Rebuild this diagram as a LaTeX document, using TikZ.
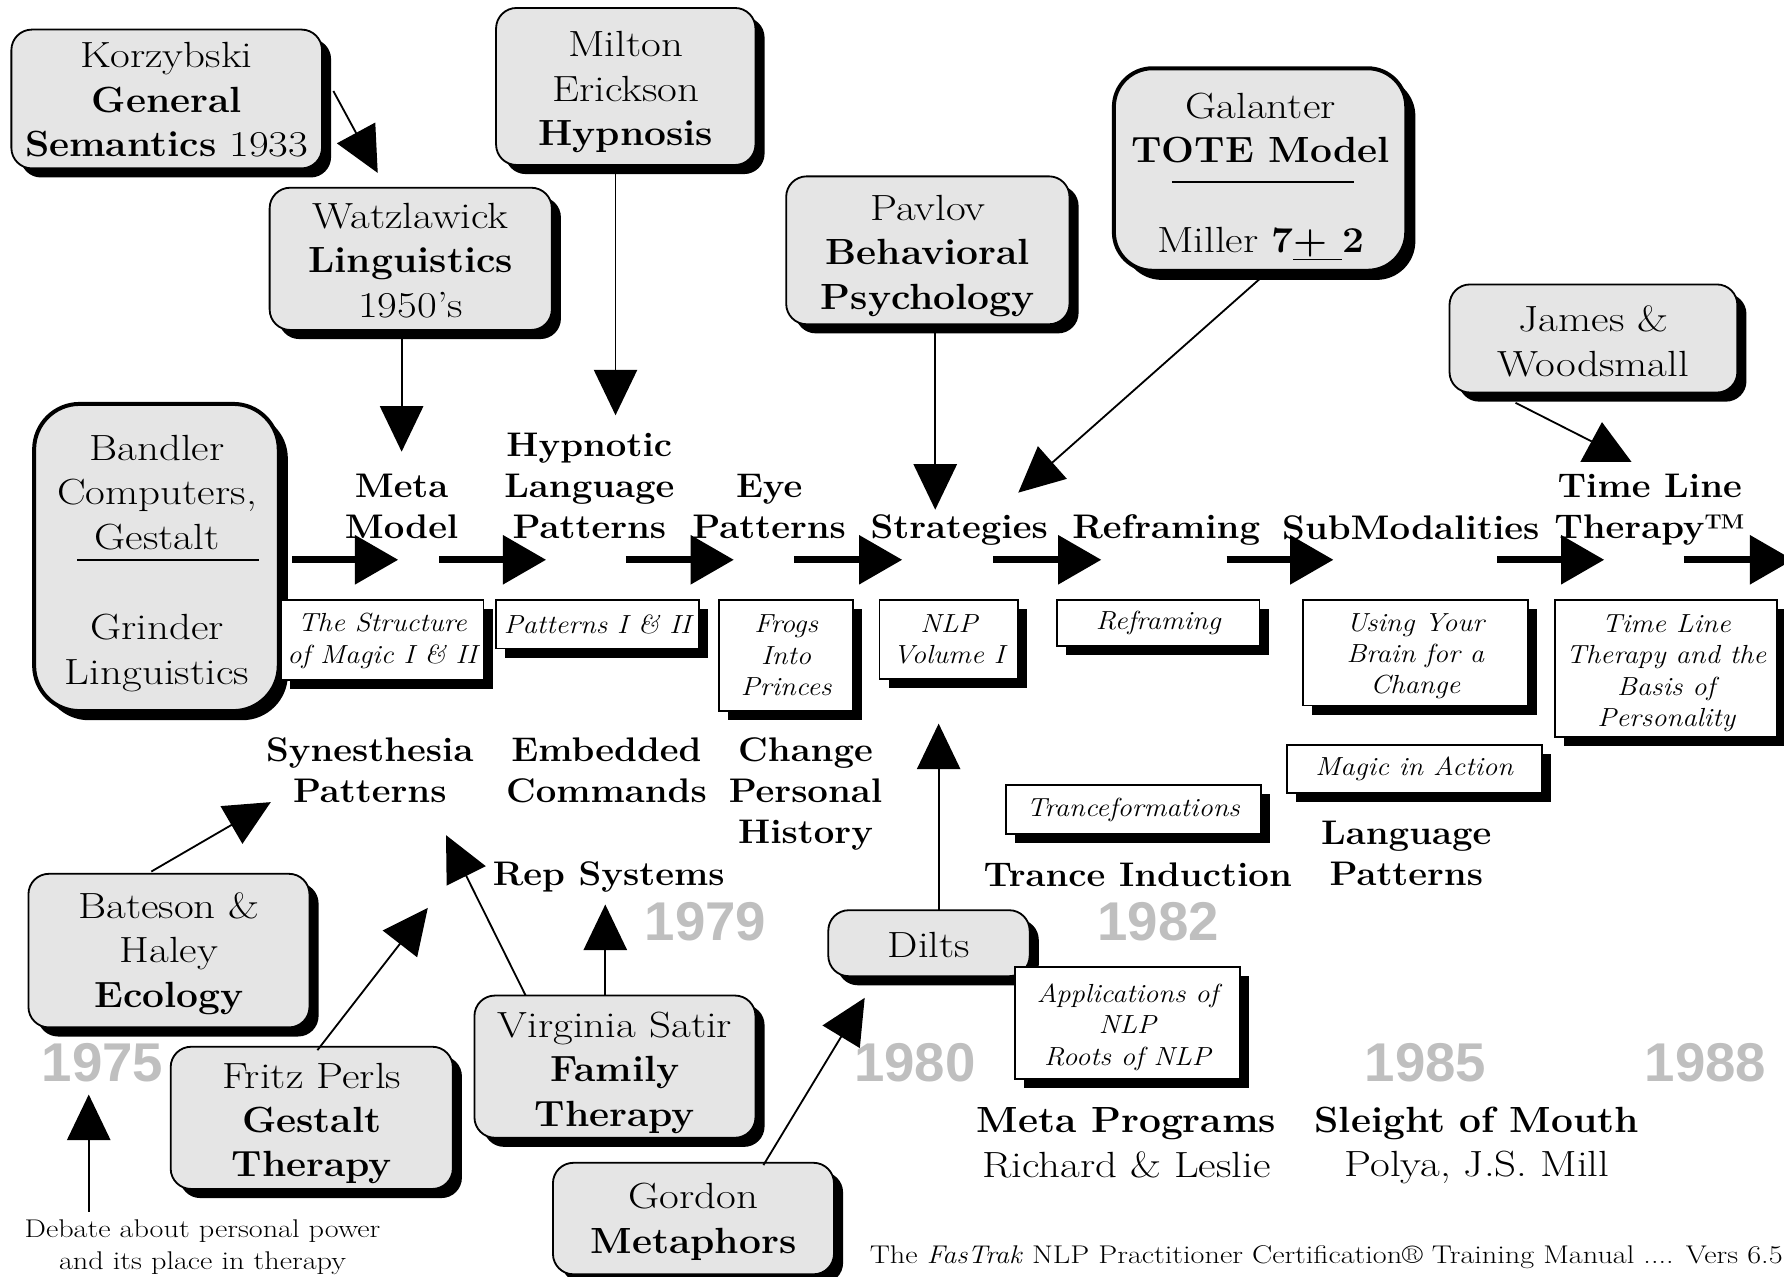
\documentclass[tikz,border=0pt]{standalone}
\usepackage{fontspec}
\setmainfont{Latin Modern Roman}[UprightFeatures={FakeStretch=1.18}, BoldFeatures={FakeStretch=1.07}, ItalicFeatures={FakeStretch=1.09}]
\newfontfamily\yearfont{Liberation Sans}
\usetikzlibrary{arrows.meta,shadows}
\definecolor{boxgrey}{gray}{0.9}
\definecolor{yeargrey}{gray}{0.75}
\newcommand\bigfs{\fontsize{32}{39}\selectfont}
\newcommand\labfs{\fontsize{30}{36}\selectfont\bfseries}
\newcommand\bookfs{\fontsize{23}{27.5}\selectfont\itshape}
\newcommand\yearfs{\fontsize{48}{52}\selectfont\yearfont\bfseries}
\newcommand\smallfs{\fontsize{22.5}{28}\selectfont}
\newcommand\lift[1]{\rule{0pt}{#1pt}}
\begin{document}
\begin{tikzpicture}[x=1pt,y=-1pt,
  gbox/.style={draw=black, line width=1.6pt, fill=boxgrey, rounded corners=18pt,
    general shadow={fill=black, shadow xshift=8pt, shadow yshift=-8pt},
    align=center, font=\bigfs, inner sep=0pt},
  heavybox/.style={draw=black, line width=3.5pt, fill=boxgrey, rounded corners=34pt,
    general shadow={fill=black, shadow xshift=8pt, shadow yshift=-8pt}, inner sep=0pt},
  wbox/.style={draw=black, line width=1.6pt, fill=white,
    general shadow={fill=black, shadow xshift=8pt, shadow yshift=-8pt},
    align=center, font=\bookfs, inner sep=0pt},
  lab/.style={align=center, font=\labfs, inner sep=0pt},
  plain/.style={align=center, font=\bigfs, inner sep=0pt},
  yr/.style={font=\yearfs, text=yeargrey, inner sep=0pt},
  thick arrow/.style={line width=6pt, -{Triangle[length=38pt,width=42pt]}},
  thin arrow/.style={line width=1.6pt, -{Triangle[length=40pt,width=38pt]}},
  rule/.style={line width=1.8pt}
]
\useasboundingbox (0,0) rectangle (1568,1122);

% ---------- grey source boxes ----------
\node[gbox, minimum width=273pt, minimum height=122pt] (korz) at (146.5,87)
  {\lift{24}Korzybski\\\textbf{General}\\\textbf{Semantics} 1933};
\node[gbox, minimum width=228pt, minimum height=138pt] (milton) at (550,76)
  {\lift{32}Milton\\Erickson\\\textbf{Hypnosis}};
\node[gbox, minimum width=248pt, minimum height=125pt] (watz) at (361,227.5)
  {\lift{25}Watzlawick\\\textbf{Linguistics}\\1950's};
\node[heavybox, minimum width=257pt, minimum height=178pt] (galanter) at (1107.5,149) {};
\node[plain] (galtxt) at (1108,112.5) {Galanter\\\textbf{TOTE Model}};
\draw[rule] (1030,160) -- (1190,160);
\node[plain] (miller) at (1108,214) {Miller \textbf{7\underline{+\ }2}};
\node[gbox, minimum width=249pt, minimum height=130pt] (pavlov) at (815.5,220)
  {\lift{32}Pavlov\\\textbf{Behavioral}\\\textbf{Psychology}};
\node[gbox, minimum width=253pt, minimum height=95pt] (james) at (1400.5,297.5)
  {\lift{28}James \&\\Woodsmall};
\node[heavybox, minimum width=215pt, minimum height=270pt, rounded corners=40pt] (bandler) at (137.5,490) {};
\node[plain] (bandtxt) at (138,433) {Bandler\\Computers,\\Gestalt};
\draw[rule] (68,492) -- (228,492);
\node[plain] (grindtxt) at (138,574) {Grinder\\Linguistics};
\node[gbox, minimum width=247pt, minimum height=135pt] (bateson) at (148.5,835.5)
  {\lift{28}Bateson \&\\Haley\\\textbf{Ecology}};
\node[gbox, minimum width=248pt, minimum height=125pt] (fritz) at (274,982.5)
  {\lift{32}Fritz Perls\\\textbf{Gestalt}\\\textbf{Therapy}};
\node[gbox, minimum width=247pt, minimum height=125pt] (satir) at (540.5,937.5)
  {\lift{33}Virginia Satir\\\textbf{Family}\\\textbf{Therapy}};
\node[gbox, minimum width=247pt, minimum height=98pt] (gordon) at (609.5,1071)
  {\lift{28}Gordon\\\textbf{Metaphors}};
\node[gbox, minimum width=177pt, minimum height=58pt] (dilts) at (816.5,829) {\lift{26}Dilts};

% ---------- book boxes ----------
\node[wbox, minimum width=178pt, minimum height=71pt] (structure) at (336,562.5)
  {\lift{18}The Structure\\of Magic I \& II};
\node[wbox, minimum width=178pt, minimum height=43pt] (patbook) at (525,548.5)
  {Patterns I \& II};
\node[wbox, minimum width=118pt, minimum height=98pt] (frogs) at (691,576)
  {Frogs\\Into\\Princes};
\node[wbox, minimum width=122pt, minimum height=70pt] (nlpvol) at (834,562)
  {NLP\\Volume I};
\node[wbox, minimum width=178pt, minimum height=41pt] (refbook) at (1018,547.5)
  {Reframing};
\node[wbox, minimum width=198pt, minimum height=93pt] (brain) at (1244,573.5)
  {\lift{22}Using Your\\Brain for a\\Change};
\node[wbox, minimum width=195pt, minimum height=121pt] (tlbook) at (1464.5,587.5)
  {\lift{24}Time Line\\Therapy and the\\Basis of\\Personality};
\node[wbox, minimum width=224pt, minimum height=42pt] (magic) at (1243,676)
  {Magic in Action};
\node[wbox, minimum width=224pt, minimum height=43pt] (trancef) at (996,711.5)
  {Tranceformations};
\node[wbox, minimum width=198pt, minimum height=98pt] (applic) at (991,899)
  {\lift{24}Applications of\\NLP\\Roots of NLP};

% ---------- topic labels ----------
\node[lab] (metamodel) at (353,445) {Meta\\Model};
\node[lab] (hypnotic) at (518,427) {Hypnotic\\Language\\Patterns};
\node[lab] (eyepat) at (676,445) {Eye\\Patterns};
\node[lab] (strategies) at (843,466) {Strategies};
\node[lab] (reframing) at (1025,466) {Reframing};
\node[lab] (submod) at (1240,464) {SubModalities};
\node[lab] (timeline) at (1450,448) {Time Line\\Therapy\texttrademark};
\node[lab] (synesth) at (325,677) {Synesthesia\\Patterns};
\node[lab] (embedded) at (533,677) {Embedded\\Commands};
\node[lab] (changeph) at (708,698) {Change\\Personal\\History};
\node[lab] (repsys) at (535,771) {Rep Systems};
\node[lab] (trance) at (1000,769) {Trance Induction};
\node[lab] (langpat) at (1236,750) {Language\\Patterns};
\node[plain] (metaprog) at (990,1004.5) {\textbf{Meta Programs}\\Richard \& Leslie};
\node[plain] (sleight) at (1298,1007) {\textbf{Sleight of Mouth}\\Polya, J.S. Mill};

% ---------- years ----------
\node[yr] (y1979) at (620,810) {1979};
\node[yr] (y1982) at (1018,810) {1982};
\node[yr] (y1975) at (90,934) {1975};
\node[yr] (y1980) at (804,934) {1980};
\node[yr] (y1985) at (1253,934) {1985};
\node[yr] (y1988) at (1499,934) {1988};

% ---------- small texts ----------
\node[align=center, font=\smallfs, inner sep=0pt] (debate) at (178,1096)
  {Debate about personal power\\and its place in therapy};
\node[anchor=east, font=\smallfs, inner sep=0pt] (footer) at (1567,1105)
  {The \textit{FasTrak} NLP Practitioner Certification\textregistered{} Training Manual .... Vers 6.5};

% ---------- timeline arrows ----------
\foreach \i/\a/\b in {1/257/350, 2/386/480, 3/550/645, 4/698/793, 5/873/968, 6/1078/1172, 7/1316/1410, 8/1480/1576}{
  \coordinate (hs\i) at (\a,492);
  \coordinate (he\i) at (\b,492);
  \draw[thick arrow] (hs\i) -- (he\i);
}

% ---------- influence arrows ----------
\coordinate (k1) at (293,80);    \coordinate (k2) at (332,152);
\coordinate (w1) at (353,297);   \coordinate (w2) at (353,397);
\coordinate (m1) at (541,152);   \coordinate (m2) at (541,365);
\coordinate (p1) at (822,292);   \coordinate (p2) at (822,448);
\coordinate (g1) at (1113,240);  \coordinate (g2) at (895,433);
\coordinate (b1) at (133,766);   \coordinate (b2) at (238,705);
\coordinate (f1) at (279,923);   \coordinate (f2) at (376,798);
\coordinate (s1) at (462,875);   \coordinate (s2) at (392,734);
\coordinate (r1) at (532,875);   \coordinate (r2) at (532,795);
\coordinate (o1) at (671,1024);  \coordinate (o2) at (760,877);
\coordinate (d1) at (825,800);   \coordinate (d2) at (825,636);
\coordinate (e1) at (78,1065);   \coordinate (e2) at (78,962);
\coordinate (j1) at (1332,354);  \coordinate (j2) at (1399,388);

\draw[thin arrow] (k1) -- (k2);
\draw[thin arrow] (w1) -- (w2);
\draw[thin arrow] (m1) -- (m2);
\draw[thin arrow] (p1) -- (p2);
\draw[thin arrow] (g1) -- (g2);
\draw[thin arrow] (b1) -- (b2);
\draw[thin arrow] (f1) -- (f2);
\draw[thin arrow] (s1) -- (s2);
\draw[thin arrow] (r1) -- (r2);
\draw[thin arrow] (o1) -- (o2);
\draw[thin arrow] (d1) -- (d2);
\draw[thin arrow] (e1) -- (e2);
\draw[line width=1.6pt] (j1) -- (j2);
\fill (1408,371) -- (1389,406) -- (1434,406) -- cycle;
\end{tikzpicture}
\end{document}
